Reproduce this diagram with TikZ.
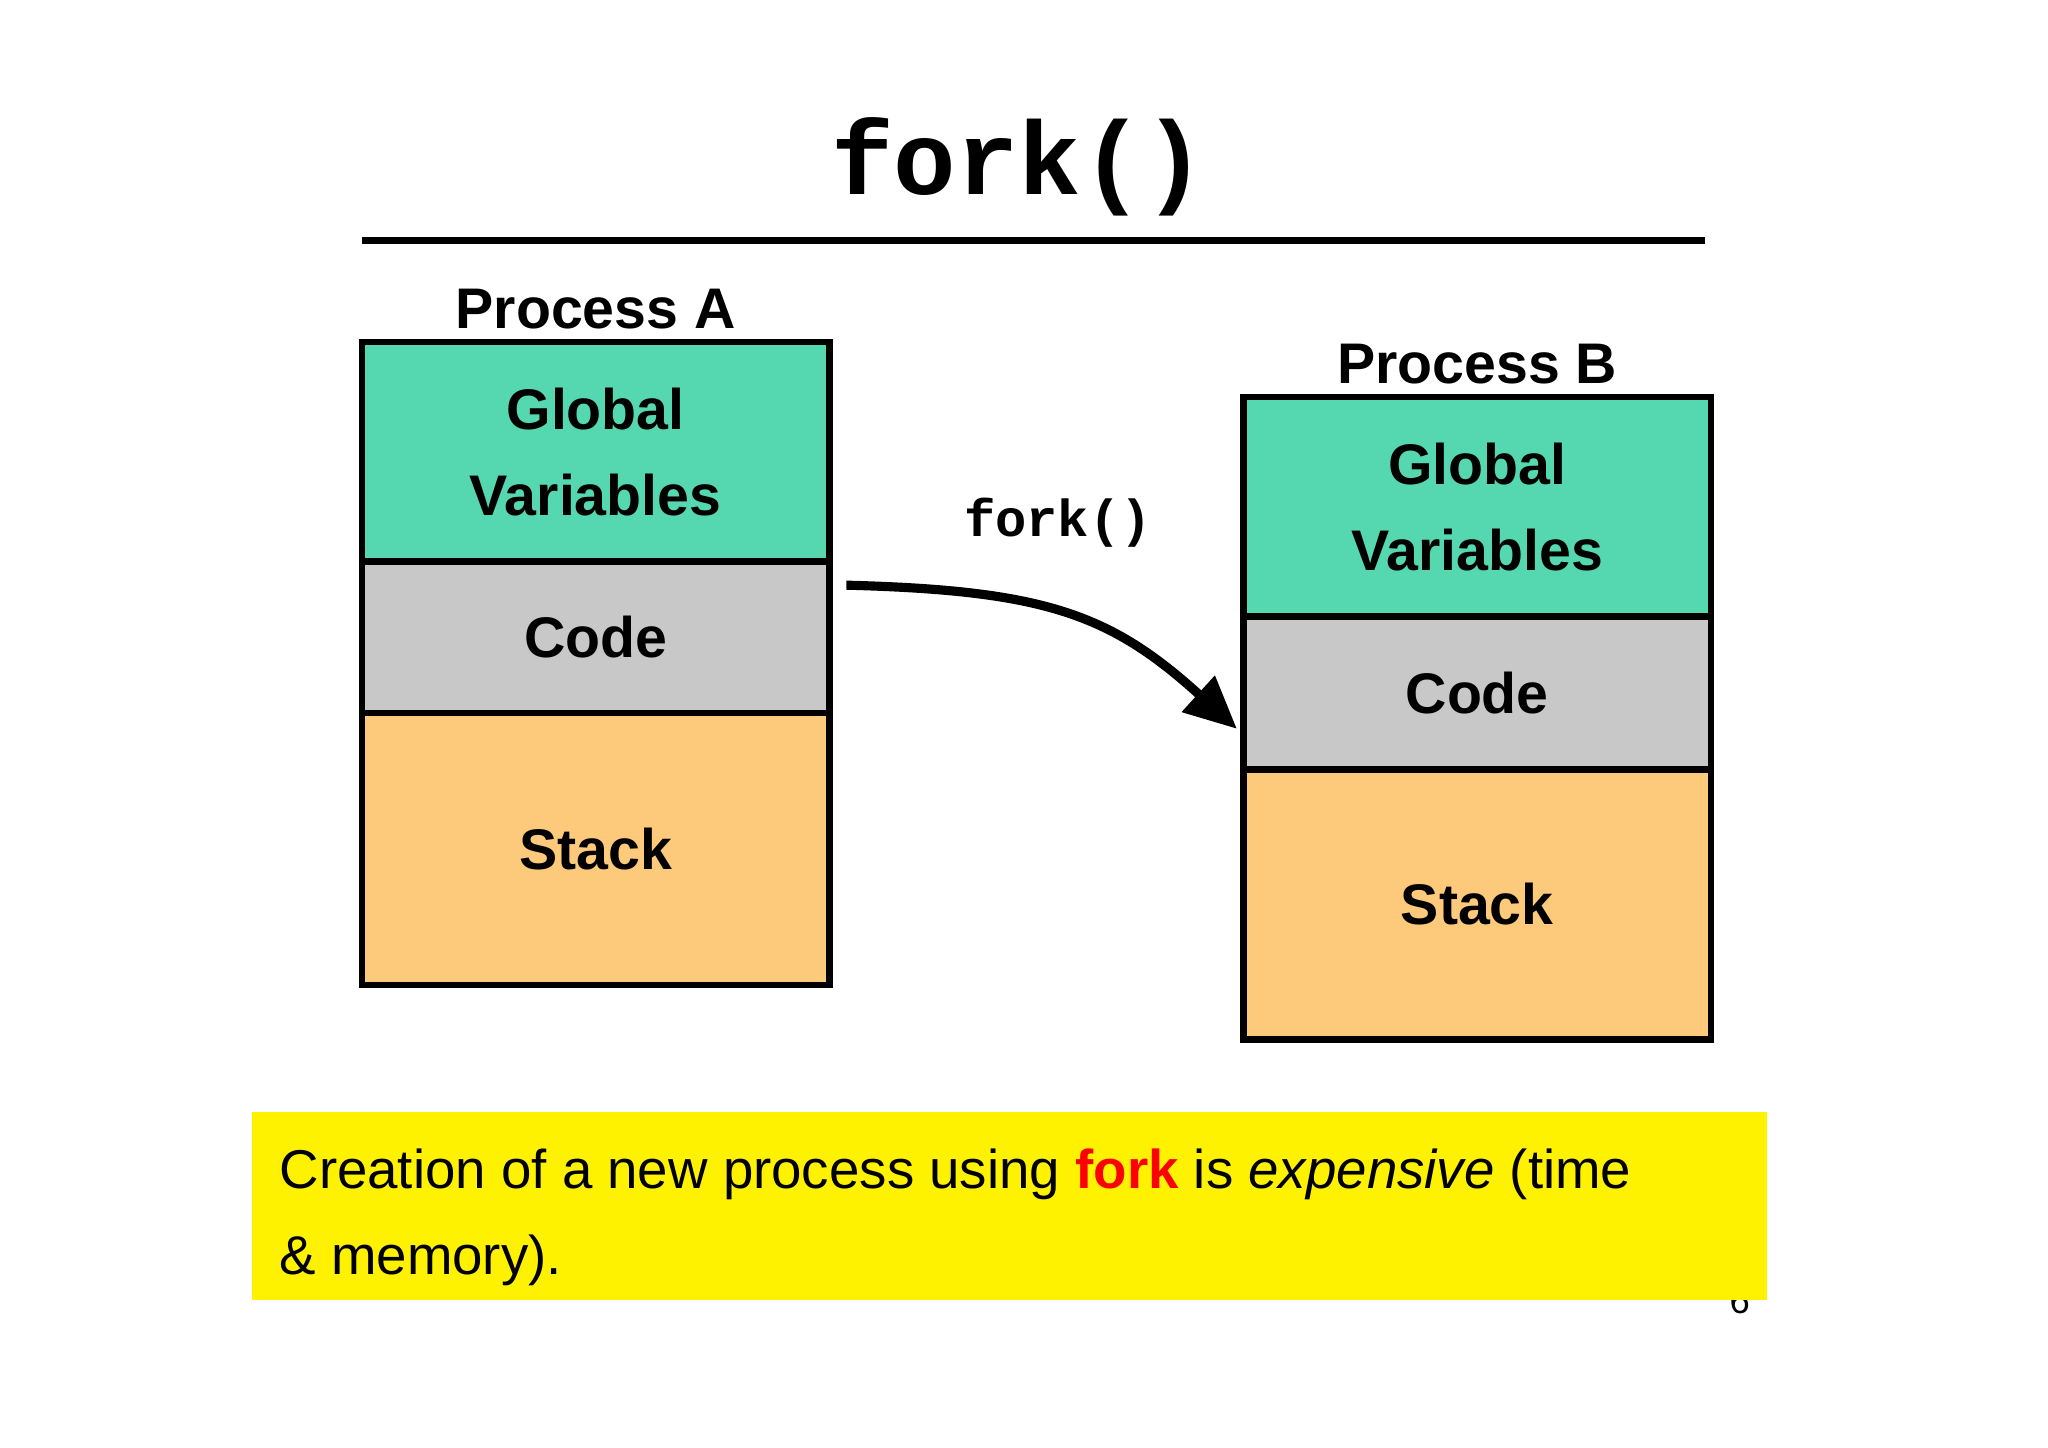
\documentclass[tikz,border=0pt]{standalone}
\usepackage{fontspec}
\usetikzlibrary{arrows.meta}
\setmainfont{Liberation Sans}
\newfontfamily\monofont{Liberation Mono}
\definecolor{gv}{HTML}{55D8B0}
\definecolor{cd}{HTML}{C8C8C8}
\definecolor{st}{HTML}{FDC97A}
\begin{document}
\begin{tikzpicture}[x=0.5bp,y=-0.5bp,
  seg/.style={draw=black,line width=2.5bp,minimum width=179bp,inner sep=0pt,align=center,
    font=\fontsize{22}{33}\selectfont\bfseries},
  lbl/.style={font=\fontsize{22}{26}\selectfont\bfseries}]
\useasboundingbox (0,0) rectangle (1568,1108);
\fill[white] (0,0) rectangle (1568,1108);
\node[font=\fontsize{40}{44}\selectfont\monofont\bfseries] (title) at (780,128) {fork()};
\draw[line width=2.5bp] (277,184) coordinate (l1) -- (1305,184) coordinate (l2);
% Process A
\node[lbl] (pa) at (456,237) {Process A};
\node[seg,fill=gv,minimum height=84bp] (ag) at (456,346) {Global\\Variables};
\node[seg,fill=cd,minimum height=58bp] (ac) at (456,488) {Code};
\node[seg,fill=st,minimum height=104bp] (as) at (456,650) {Stack};
% Process B
\node[lbl] (pb) at (1131,279) {Process B};
\node[seg,fill=gv,minimum height=84bp] (bg) at (1131,388) {Global\\Variables};
\node[seg,fill=cd,minimum height=58.5bp] (bc) at (1131,530.5) {Code};
\node[seg,fill=st,minimum height=103.5bp] (bs) at (1131,692.5) {Stack};
% arrow
\node[font=\fontsize{20}{24}\selectfont\monofont\bfseries] (fl) at (810,400) {fork()};
\coordinate (s) at (648,448);
\coordinate (e) at (947,558);
\draw[line width=3.5bp,-{Triangle[length=20bp,width=18bp]}] (s) .. controls (800,452) and (850,470) .. (e);
% page number and yellow box
\node[font=\fontsize{14}{16}\selectfont] (pn) at (1332,996) {6};
\fill[yellow] (193,851) rectangle (1353,995);
\node[anchor=base west,font=\fontsize{21}{33}\selectfont] (t1) at (207,910) {Creation of a new process using \textcolor{red}{\bfseries fork} is \textit{expensive} (time};
\node[anchor=base west,font=\fontsize{21}{33}\selectfont] (t2) at (207,976) {\& memory).};
\end{tikzpicture}
\end{document}
